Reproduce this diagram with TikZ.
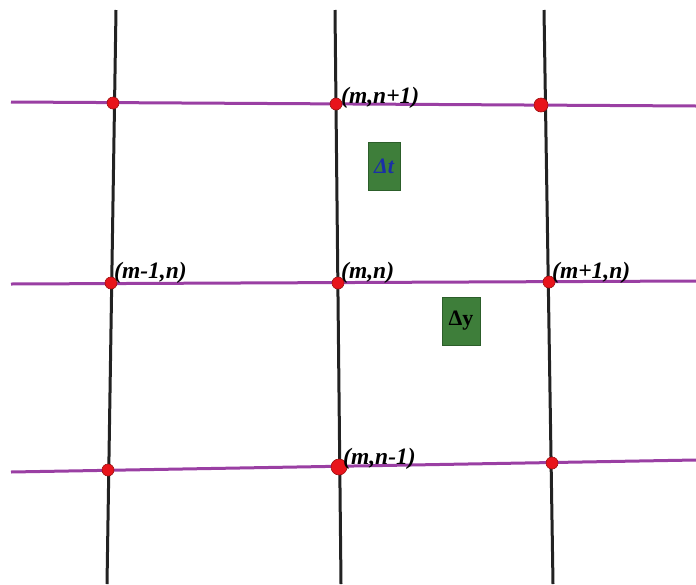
\documentclass[tikz,border=0pt]{standalone}
\usepackage{fontspec}
\setmainfont{Liberation Serif}
\usetikzlibrary{positioning, calc}
\definecolor{GridV}{HTML}{222222}
\definecolor{GridH}{HTML}{9A3FA3}
\definecolor{PtFill}{HTML}{E8141B}
\definecolor{PtLine}{HTML}{9E1010}
\definecolor{BoxG}{HTML}{3E7E3A}
\definecolor{BoxGD}{HTML}{2C5E2A}
\definecolor{DeltaBlue}{HTML}{1A2FA8}
\tikzset{
  vline/.style={draw=GridV, line width=3pt},
  hline/.style={draw=GridH, line width=3pt},
  pt/.style={circle, fill=PtFill, draw=PtLine, line width=0.6pt, inner sep=0pt, minimum size=12pt},
  lab/.style={anchor=west, inner sep=0pt, font=\fontsize{23.5}{26}\selectfont\bfseries\itshape},
  gbox/.style={fill=BoxG, draw=BoxGD, line width=0.5pt, inner sep=0pt, minimum width=32pt, minimum height=48pt, font=\fontsize{22}{24}\selectfont\bfseries}
}

\begin{document}
\begin{tikzpicture}[x=1pt, y=-1pt]
  \useasboundingbox (0,0) rectangle (696,584);

  % ends of the grid lines
  \coordinate (v1t) at (116,10);  \coordinate (v1b) at (107,584);
  \coordinate (v2t) at (335,10);  \coordinate (v2b) at (341,584);
  \coordinate (v3t) at (544,10);  \coordinate (v3b) at (553,584);
  \coordinate (h1l) at (11,102);  \coordinate (h1r) at (696,106);
  \coordinate (h2l) at (11,284);  \coordinate (h2r) at (696,281);
  \coordinate (h3l) at (11,472);  \coordinate (h3r) at (696,460);

  \draw[hline] (h1l) -- (h1r);
  \draw[hline] (h2l) -- (h2r);
  \draw[hline] (h3l) -- (h3r);
  \draw[vline] (v1t) -- (v1b);
  \draw[vline] (v2t) -- (v2b);
  \draw[vline] (v3t) -- (v3b);

  % grid points
  \node[pt] (p11) at (113,103) {};
  \node[pt] (p21) at (336,104) {};
  \node[pt,minimum size=14pt] (p31) at (541,105) {};
  \node[pt] (p12) at (111,283) {};
  \node[pt] (p22) at (338,283) {};
  \node[pt] (p32) at (549,282) {};
  \node[pt] (p13) at (108,470) {};
  \node[pt,minimum size=16pt] (p23) at (339,467) {};
  \node[pt] (p33) at (552,463) {};

  \node[lab] (l21) at (341,98) {(m,n+1)};
  \node[lab] (l12) at (114,273) {(m-1,n)};
  \node[lab] (l22) at (341,273) {(m,n)};
  \node[lab] (l32) at (552,273) {(m+1,n)};
  \node[lab] (l23) at (343,459) {(m,n-1)};

  \node[gbox,text=DeltaBlue] (dt) at (384,166) {\itshape Δt};
  \node[gbox,minimum width=38pt] (dy) at (461,321) {Δy};
\end{tikzpicture}
\end{document}
